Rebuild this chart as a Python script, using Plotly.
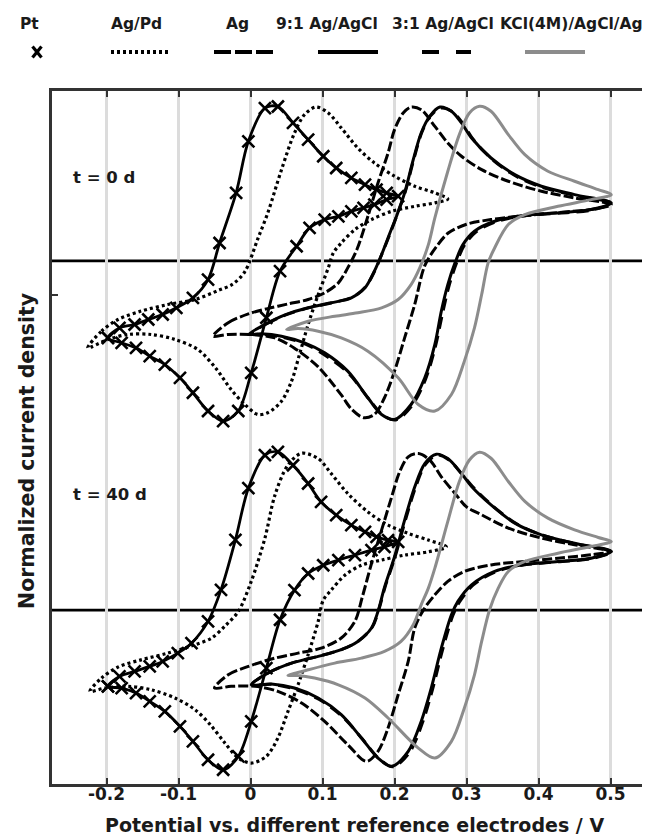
import plotly.graph_objects as go

# ---------------- data (x: potential / V, y: normalized current) ----------------
pt_x_0d = [-0.198, -0.182, -0.161, -0.142, -0.122, -0.103, -0.080, -0.059, -0.043, -0.020, -0.003, 0.020, 0.038,
           0.059, 0.080, 0.101, 0.119, 0.140, 0.159, 0.175, 0.189, 0.205, 0.189, 0.172, 0.157, 0.140, 0.122, 0.103,
           0.082, 0.064, 0.041, 0.022, 0.001, -0.017, -0.038, -0.059, -0.080, -0.098, -0.119, -0.140, -0.159,
           -0.179, -0.198]
pt_y_0d = [-0.494, -0.430, -0.408, -0.376, -0.344, -0.301, -0.237, -0.120, 0.115, 0.436, 0.767, 0.980, 0.990,
           0.885, 0.778, 0.671, 0.596, 0.532, 0.489, 0.457, 0.436, 0.415, 0.393, 0.361, 0.340, 0.318, 0.286, 0.265,
           0.212, 0.094, -0.066, -0.365, -0.718, -0.963, -1.028, -0.963, -0.846, -0.750, -0.665, -0.611, -0.558,
           -0.526, -0.494]
pt_x_40d = [-0.198, -0.182, -0.161, -0.140, -0.122, -0.101, -0.082, -0.059, -0.041, -0.021, -0.003, 0.020, 0.038,
            0.059, 0.080, 0.098, 0.119, 0.140, 0.159, 0.175, 0.191, 0.205, 0.186, 0.168, 0.145, 0.122, 0.101, 0.080,
            0.061, 0.041, 0.022, 0.001, -0.017, -0.038, -0.059, -0.080, -0.098, -0.119, -0.140, -0.159, -0.179,
            -0.198]
pt_y_40d = [-0.489, -0.425, -0.393, -0.361, -0.329, -0.276, -0.212, -0.072, 0.130, 0.451, 0.782, 0.994, 1.015,
            0.929, 0.812, 0.694, 0.609, 0.545, 0.502, 0.470, 0.449, 0.438, 0.406, 0.385, 0.353, 0.321, 0.288, 0.235,
            0.128, -0.062, -0.372, -0.714, -0.938, -1.024, -0.960, -0.842, -0.746, -0.650, -0.585, -0.532, -0.500,
            -0.489]

agpd_x_0d = [-0.226, -0.207, -0.184, -0.152, -0.115, -0.077, -0.045, -0.025, -0.008, 0.010, 0.024, 0.043, 0.061,
             0.075, 0.091, 0.108, 0.126, 0.149, 0.172, 0.200, 0.228, 0.256, 0.274, 0.256, 0.228, 0.196, 0.168, 0.145,
             0.126, 0.115, 0.108, 0.094, 0.080, 0.068, 0.057, 0.043, 0.024, 0.010, -0.008, -0.027, -0.048, -0.073,
             -0.105, -0.138, -0.170, -0.198, -0.226]
agpd_y_0d = [-0.558, -0.451, -0.376, -0.322, -0.280, -0.248, -0.190, -0.150, -0.070, 0.140, 0.308, 0.585, 0.820,
             0.938, 0.987, 0.949, 0.853, 0.724, 0.628, 0.543, 0.479, 0.436, 0.397, 0.372, 0.350, 0.318, 0.265, 0.201,
             0.115, 0.051, -0.045, -0.216, -0.408, -0.600, -0.771, -0.900, -0.974, -0.985, -0.921, -0.825, -0.690,
             -0.569, -0.504, -0.472, -0.472, -0.504, -0.558]
agpd_x_40d = [-0.223, -0.207, -0.184, -0.152, -0.115, -0.077, -0.054, -0.035, -0.017, 0.001, 0.020, 0.034, 0.052,
              0.071, 0.094, 0.112, 0.135, 0.163, 0.191, 0.219, 0.247, 0.272, 0.247, 0.214, 0.182, 0.154, 0.131,
              0.112, 0.101, 0.094, 0.080, 0.066, 0.052, 0.038, 0.022, 0.001, -0.017, -0.036, -0.056, -0.077, -0.105,
              -0.138, -0.170, -0.202, -0.223]
agpd_y_40d = [-0.521, -0.436, -0.365, -0.319, -0.276, -0.222, -0.179, -0.100, -0.009, 0.184, 0.462, 0.739, 0.931,
              1.006, 0.972, 0.876, 0.748, 0.630, 0.545, 0.492, 0.449, 0.406, 0.374, 0.353, 0.321, 0.288, 0.224,
              0.128, 0.064, -0.072, -0.286, -0.479, -0.650, -0.820, -0.938, -0.981, -0.949, -0.850, -0.735, -0.639,
              -0.564, -0.511, -0.489, -0.500, -0.521]

ag_x_0d = [-0.052, -0.031, -0.003, 0.024, 0.052, 0.080, 0.103, 0.122, 0.135, 0.148, 0.163, 0.177, 0.191, 0.200,
           0.212, 0.223, 0.237, 0.256, 0.274, 0.293, 0.321, 0.358, 0.404, 0.450, 0.501, 0.473, 0.427, 0.381, 0.334,
           0.300, 0.275, 0.258, 0.242, 0.228, 0.214, 0.200, 0.186, 0.172, 0.157, 0.140, 0.126, 0.094, 0.061, 0.034,
           0.001, -0.031, -0.052]
ag_y_0d = [-0.483, -0.397, -0.340, -0.306, -0.276, -0.248, -0.205, -0.141, -0.045, 0.076, 0.286, 0.500, 0.692,
           0.842, 0.949, 0.987, 0.970, 0.863, 0.756, 0.671, 0.585, 0.511, 0.447, 0.404, 0.361, 0.330, 0.310, 0.290,
           0.265, 0.235, 0.180, 0.090, -0.030, -0.280, -0.494, -0.707, -0.878, -0.985, -1.006, -0.950, -0.860,
           -0.680, -0.560, -0.494, -0.472, -0.472, -0.483]
ag_x_40d = [-0.050, -0.031, -0.003, 0.034, 0.066, 0.098, 0.126, 0.145, 0.155, 0.168, 0.182, 0.196, 0.207, 0.219,
            0.233, 0.249, 0.265, 0.284, 0.300, 0.321, 0.358, 0.404, 0.450, 0.501, 0.473, 0.427, 0.381, 0.334, 0.297,
            0.274, 0.256, 0.240, 0.228, 0.219, 0.205, 0.191, 0.177, 0.161, 0.135, 0.103, 0.071, 0.038, 0.006,
            -0.027, -0.050]
ag_y_40d = [-0.500, -0.415, -0.361, -0.308, -0.276, -0.244, -0.179, -0.072, 0.080, 0.299, 0.513, 0.726, 0.886,
            0.983, 1.004, 0.962, 0.855, 0.748, 0.662, 0.611, 0.526, 0.462, 0.419, 0.376, 0.355, 0.333, 0.312, 0.290,
            0.248, 0.184, 0.098, 0.000, -0.115, -0.329, -0.543, -0.756, -0.906, -0.970, -0.863, -0.714, -0.596,
            -0.521, -0.489, -0.489, -0.500]

r91_x_0d = [-0.003, 0.020, 0.047, 0.080, 0.112, 0.140, 0.159, 0.172, 0.182, 0.192, 0.203, 0.214, 0.226, 0.237,
            0.249, 0.263, 0.279, 0.293, 0.307, 0.334, 0.367, 0.404, 0.450, 0.501, 0.473, 0.427, 0.381, 0.339, 0.311,
            0.295, 0.284, 0.274, 0.265, 0.256, 0.242, 0.223, 0.200, 0.182, 0.163, 0.135, 0.103, 0.075, 0.043, 0.015,
            -0.003]
r91_y_0d = [-0.472, -0.408, -0.348, -0.301, -0.269, -0.237, -0.173, -0.066, 0.040, 0.160, 0.290, 0.436, 0.649,
            0.820, 0.928, 0.987, 0.960, 0.885, 0.788, 0.660, 0.553, 0.479, 0.425, 0.372, 0.329, 0.308, 0.293, 0.254,
            0.190, 0.104, -0.013, -0.152, -0.322, -0.536, -0.750, -0.921, -1.017, -0.985, -0.878, -0.707, -0.590,
            -0.526, -0.483, -0.468, -0.472]
r91_x_40d = [0.001, 0.024, 0.057, 0.094, 0.126, 0.149, 0.168, 0.177, 0.186, 0.200, 0.214, 0.228, 0.242, 0.258,
             0.274, 0.293, 0.307, 0.334, 0.367, 0.404, 0.450, 0.501, 0.473, 0.427, 0.376, 0.339, 0.307, 0.288, 0.279,
             0.265, 0.251, 0.237, 0.219, 0.196, 0.177, 0.154, 0.126, 0.094, 0.061, 0.029, 0.001]
r91_y_40d = [-0.479, -0.404, -0.340, -0.297, -0.254, -0.201, -0.115, -0.009, 0.145, 0.342, 0.577, 0.790, 0.940,
             1.000, 0.972, 0.876, 0.793, 0.675, 0.558, 0.483, 0.429, 0.376, 0.333, 0.312, 0.290, 0.248, 0.162,
             0.056, -0.030, -0.244, -0.500, -0.714, -0.906, -1.002, -0.949, -0.820, -0.671, -0.564, -0.500, -0.474,
             -0.479]

r31_x_0d = [0.000, 0.022, 0.050, 0.082, 0.114, 0.142, 0.160, 0.173, 0.183, 0.193, 0.204, 0.215, 0.227, 0.238,
            0.250, 0.264, 0.281, 0.295, 0.310, 0.337, 0.370, 0.406, 0.452, 0.501, 0.473, 0.427, 0.381, 0.340, 0.313,
            0.297, 0.286, 0.276, 0.267, 0.257, 0.243, 0.224, 0.202, 0.184, 0.165, 0.137, 0.105, 0.077, 0.045, 0.016,
            0.000]
r31_y_0d = [-0.470, -0.405, -0.345, -0.300, -0.268, -0.232, -0.165, -0.060, 0.050, 0.165, 0.300, 0.445, 0.655,
            0.825, 0.930, 0.980, 0.955, 0.880, 0.775, 0.645, 0.540, 0.470, 0.418, 0.370, 0.325, 0.305, 0.290, 0.250,
            0.185, 0.100, -0.015, -0.155, -0.330, -0.545, -0.760, -0.930, -1.020, -0.990, -0.890, -0.725, -0.610,
            -0.535, -0.490, -0.470, -0.470]
r31_x_40d = [0.002, 0.025, 0.058, 0.095, 0.127, 0.150, 0.169, 0.178, 0.187, 0.201, 0.215, 0.229, 0.243, 0.259,
             0.275, 0.294, 0.309, 0.336, 0.369, 0.406, 0.452, 0.501, 0.473, 0.427, 0.377, 0.340, 0.309, 0.290, 0.281,
             0.267, 0.253, 0.239, 0.221, 0.198, 0.179, 0.156, 0.128, 0.096, 0.062, 0.030, 0.002]
r31_y_40d = [-0.477, -0.402, -0.338, -0.295, -0.252, -0.198, -0.110, 0.000, 0.150, 0.345, 0.575, 0.785, 0.935,
             0.995, 0.965, 0.870, 0.790, 0.670, 0.555, 0.480, 0.425, 0.372, 0.330, 0.310, 0.288, 0.245, 0.160,
             0.050, -0.035, -0.250, -0.505, -0.720, -0.912, -1.005, -0.955, -0.830, -0.685, -0.575, -0.508, -0.476,
             -0.477]

kcl_x_0d = [0.050, 0.080, 0.117, 0.149, 0.182, 0.205, 0.223, 0.235, 0.247, 0.256, 0.274, 0.290, 0.304, 0.318,
            0.334, 0.358, 0.381, 0.413, 0.450, 0.483, 0.501, 0.473, 0.427, 0.381, 0.358, 0.339, 0.330, 0.321, 0.311,
            0.297, 0.279, 0.256, 0.233, 0.205, 0.163, 0.126, 0.094, 0.066, 0.050]
kcl_y_0d = [-0.440, -0.387, -0.355, -0.333, -0.301, -0.248, -0.152, -0.045, 0.104, 0.276, 0.575, 0.810, 0.949,
            0.992, 0.960, 0.810, 0.681, 0.575, 0.511, 0.457, 0.425, 0.393, 0.350, 0.297, 0.233, 0.083, -0.013,
            -0.216, -0.430, -0.643, -0.857, -0.963, -0.921, -0.750, -0.579, -0.494, -0.451, -0.434, -0.440]
kcl_x_40d = [0.052, 0.080, 0.117, 0.154, 0.186, 0.209, 0.226, 0.237, 0.247, 0.256, 0.274, 0.290, 0.304, 0.318,
             0.334, 0.358, 0.381, 0.413, 0.450, 0.483, 0.501, 0.473, 0.427, 0.381, 0.358, 0.344, 0.332, 0.321, 0.311,
             0.297, 0.279, 0.256, 0.233, 0.191, 0.159, 0.122, 0.089, 0.066, 0.052]
kcl_y_40d = [-0.419, -0.383, -0.340, -0.308, -0.265, -0.201, -0.094, 0.034, 0.141, 0.269, 0.569, 0.825, 0.963,
             1.013, 0.974, 0.825, 0.697, 0.590, 0.515, 0.466, 0.440, 0.408, 0.365, 0.312, 0.248, 0.141, 0.002,
             -0.201, -0.415, -0.628, -0.842, -0.949, -0.885, -0.692, -0.564, -0.479, -0.436, -0.419, -0.419]

series_names = ["Pt", "Ag/Pd", "Ag", "9:1 Ag/AgCl", "3:1 Ag/AgCl", "KCl(4M)/AgCl/Ag"]
panel_labels = ["t = 0 d", "t = 40 d"]
x_tick_values = [-0.2, -0.1, 0, 0.1, 0.2, 0.3, 0.4, 0.5]
x_tick_labels = ["-0.2", "-0.1", "0", "0.1", "0.2", "0.3", "0.4", "0.5"]
x_title = "Potential vs. different reference electrodes / V"
y_title = "Normalized current density"

# ---------------- styling / layout ----------------
W, H = 650, 838
ML, MR, MT, MB = 44, 10, 83, 62
PW, PH = W - ML - MR, H - MT - MB
FONT = "DejaVu Sans, Verdana, sans-serif"
TXT = "#1a1a1a"
GRAY = "#8c8c8c"
OFFSETS = [1.12, -1.12]          # vertical offset of each panel (t = 0 d, t = 40 d)
Y_RANGE = [-2.2354, 2.2097]
X_RANGE = [-0.2757, 0.552]

styles = {
    "Pt": dict(color="black", width=2.8, dash="solid"),
    "Ag/Pd": dict(color="black", width=3.2, dash="3px,3px"),
    "Ag": dict(color="black", width=3.0, dash="10px,3px"),
    "9:1 Ag/AgCl": dict(color="black", width=3.0, dash="solid"),
    "3:1 Ag/AgCl": dict(color="black", width=3.0, dash="12px,7px"),
    "KCl(4M)/AgCl/Ag": dict(color=GRAY, width=3.0, dash="solid"),
}

panels = [
    {"Pt": (pt_x_0d, pt_y_0d), "Ag/Pd": (agpd_x_0d, agpd_y_0d), "Ag": (ag_x_0d, ag_y_0d),
     "9:1 Ag/AgCl": (r91_x_0d, r91_y_0d), "3:1 Ag/AgCl": (r31_x_0d, r31_y_0d),
     "KCl(4M)/AgCl/Ag": (kcl_x_0d, kcl_y_0d)},
    {"Pt": (pt_x_40d, pt_y_40d), "Ag/Pd": (agpd_x_40d, agpd_y_40d), "Ag": (ag_x_40d, ag_y_40d),
     "9:1 Ag/AgCl": (r91_x_40d, r91_y_40d), "3:1 Ag/AgCl": (r31_x_40d, r31_y_40d),
     "KCl(4M)/AgCl/Ag": (kcl_x_40d, kcl_y_40d)},
]

fig = go.Figure()
for p, (panel, off) in enumerate(zip(panels, OFFSETS)):
    for name in series_names:
        xs, ys = panel[name]
        st = styles[name]
        kw = dict(x=xs, y=[v + off for v in ys], name=name, showlegend=False,
                  line=dict(color=st["color"], width=st["width"], dash=st["dash"],
                            shape="spline", smoothing=0.9),
                  hoverinfo="skip")
        if name == "Pt":
            kw["mode"] = "lines+markers"
            kw["marker"] = dict(symbol="x-thin", size=12, color="black",
                                line=dict(width=2.6, color="black"))
        else:
            kw["mode"] = "lines"
        fig.add_trace(go.Scatter(**kw))


def px_x(px):
    return (px - ML) / PW


def px_y(py):
    return (H - MB - py) / PH


shapes = []
# zero lines of each panel
for off in OFFSETS:
    shapes.append(dict(type="line", xref="paper", yref="y", x0=0, x1=1, y0=off, y1=off,
                       line=dict(color="black", width=2.8), layer="below"))

# custom legend (label above symbol)
legend_label_px = {"Pt": 21.7, "Ag/Pd": 128, "Ag": 229, "9:1 Ag/AgCl": 318.5,
                   "3:1 Ag/AgCl": 435, "KCl(4M)/AgCl/Ag": 563}
legend_line_px = {"Ag/Pd": (103, 163, "3px,3px", "black"), "Ag": (206, 267, "17px,4px", "black"),
                  "9:1 Ag/AgCl": (310, 370, "solid", "black"),
                  "3:1 Ag/AgCl": (414, 463, "17px,17px", "black"),
                  "KCl(4M)/AgCl/Ag": (517, 577, "solid", GRAY)}
LAB_Y, SYM_Y = 15.5, 44
for name, (a, b, d, c) in legend_line_px.items():
    shapes.append(dict(type="line", xref="paper", yref="paper", x0=px_x(a), x1=px_x(b),
                       y0=px_y(SYM_Y), y1=px_y(SYM_Y), line=dict(color=c, width=4, dash=d)))
cx, cy, hx, hy = 29, SYM_Y, 4.5, 5.5
shapes.append(dict(type="line", xref="paper", yref="paper", x0=px_x(cx - hx), x1=px_x(cx + hx),
                   y0=px_y(cy - hy), y1=px_y(cy + hy), line=dict(color="black", width=3.2)))
shapes.append(dict(type="line", xref="paper", yref="paper", x0=px_x(cx - hx), x1=px_x(cx + hx),
                   y0=px_y(cy + hy), y1=px_y(cy - hy), line=dict(color="black", width=3.2)))

annotations = []
for name in series_names:
    annotations.append(dict(text=name, xref="paper", yref="paper", x=px_x(legend_label_px[name]),
                            y=px_y(LAB_Y), xanchor="center", yanchor="middle", showarrow=False,
                            font=dict(family=FONT, size=15.5, color=TXT, weight="bold")))
for lab, py in zip(panel_labels, [170, 486]):
    annotations.append(dict(text=lab, xref="paper", yref="paper", x=px_x(63), y=px_y(py),
                            xanchor="left", yanchor="middle", showarrow=False,
                            font=dict(family=FONT, size=16.5, color=TXT, weight="bold")))
annotations.append(dict(text=x_title, xref="paper", yref="paper", x=px_x(346), y=px_y(817),
                        xanchor="center", yanchor="middle", showarrow=False,
                        font=dict(family=FONT, size=19, color=TXT, weight="bold")))
annotations.append(dict(text=y_title, xref="paper", yref="paper", x=px_x(19), y=px_y(443),
                        xanchor="center", yanchor="middle", showarrow=False, textangle=-90,
                        font=dict(family=FONT, size=20.5, color=TXT, weight="bold")))

fig.update_layout(
    width=W, height=H, margin=dict(l=ML, r=MR, t=MT, b=MB, autoexpand=False),
    plot_bgcolor="white", paper_bgcolor="white", showlegend=False,
    shapes=shapes, annotations=annotations,
    xaxis=dict(range=X_RANGE, tickmode="array", tickvals=x_tick_values, ticktext=x_tick_labels,
               ticks="inside", ticklen=6, tickwidth=2, tickcolor="#333333",
               showline=True, linecolor="#333333", linewidth=3, mirror="ticks",
               showgrid=True, gridcolor="#dcdcdc", gridwidth=3, zeroline=False,
               ticklabelstandoff=-7,
               tickfont=dict(family=FONT, size=17, color=TXT, weight="bold")),
    yaxis=dict(range=Y_RANGE, tickmode="array", tickvals=[0.9], ticktext=[""],
               ticks="inside", ticklen=6, tickwidth=2, tickcolor="#333333",
               showline=True, linecolor="#333333", linewidth=3, mirror="ticks",
               showgrid=False, zeroline=False),
)

fig.write_html("out.html")
